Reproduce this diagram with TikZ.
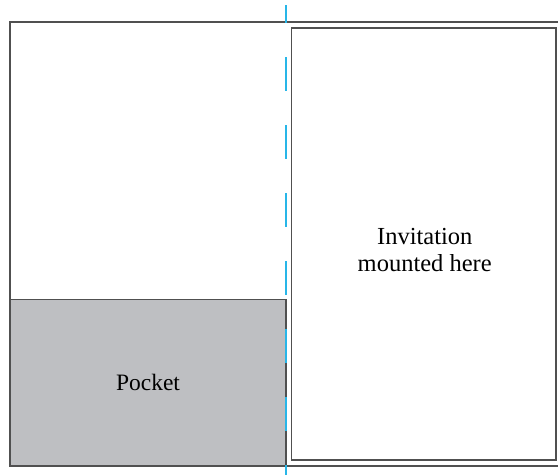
\documentclass[tikz,border=0pt]{standalone}
\usepackage{fontspec}
\setmainfont{Liberation Serif}
\usetikzlibrary{calc}
\definecolor{lineGray}{RGB}{80,80,80}
\definecolor{pocketGray}{RGB}{190,191,194}
\definecolor{foldCyan}{RGB}{40,182,232}
\begin{document}
\begin{tikzpicture}[x=1pt,y=-1pt,
  panel/.style={draw=lineGray, line width=1.3pt, inner sep=0pt, outer sep=0pt, anchor=north west, font=\fontsize{23.5}{27}\selectfont, align=center},
  fold/.style={draw=foldCyan, line width=1.6pt, dash pattern=on 34pt off 34pt, dash phase=16pt}]
\useasboundingbox (0,0) rectangle (558,475);
\clip (0,0) rectangle (558,475);
\node[panel, minimum width=570pt, minimum height=444pt] (card) at (10,22) {};
\node[panel, minimum width=264.5pt, minimum height=432pt] (invite) at (291.5,28) {};
\node[font=\fontsize{24.5}{27}\selectfont, align=center] (invtext) at ($(invite.center)+(1,6)$) {Invitation\\mounted here};
\node[panel, fill=pocketGray, minimum width=276pt, minimum height=166.5pt] (pocket) at (10,299.5) {Pocket};
\coordinate (foldtop) at (286,5);
\coordinate (foldbot) at (286,475);
\draw[fold] (foldtop) -- (foldbot);
\end{tikzpicture}
\end{document}
